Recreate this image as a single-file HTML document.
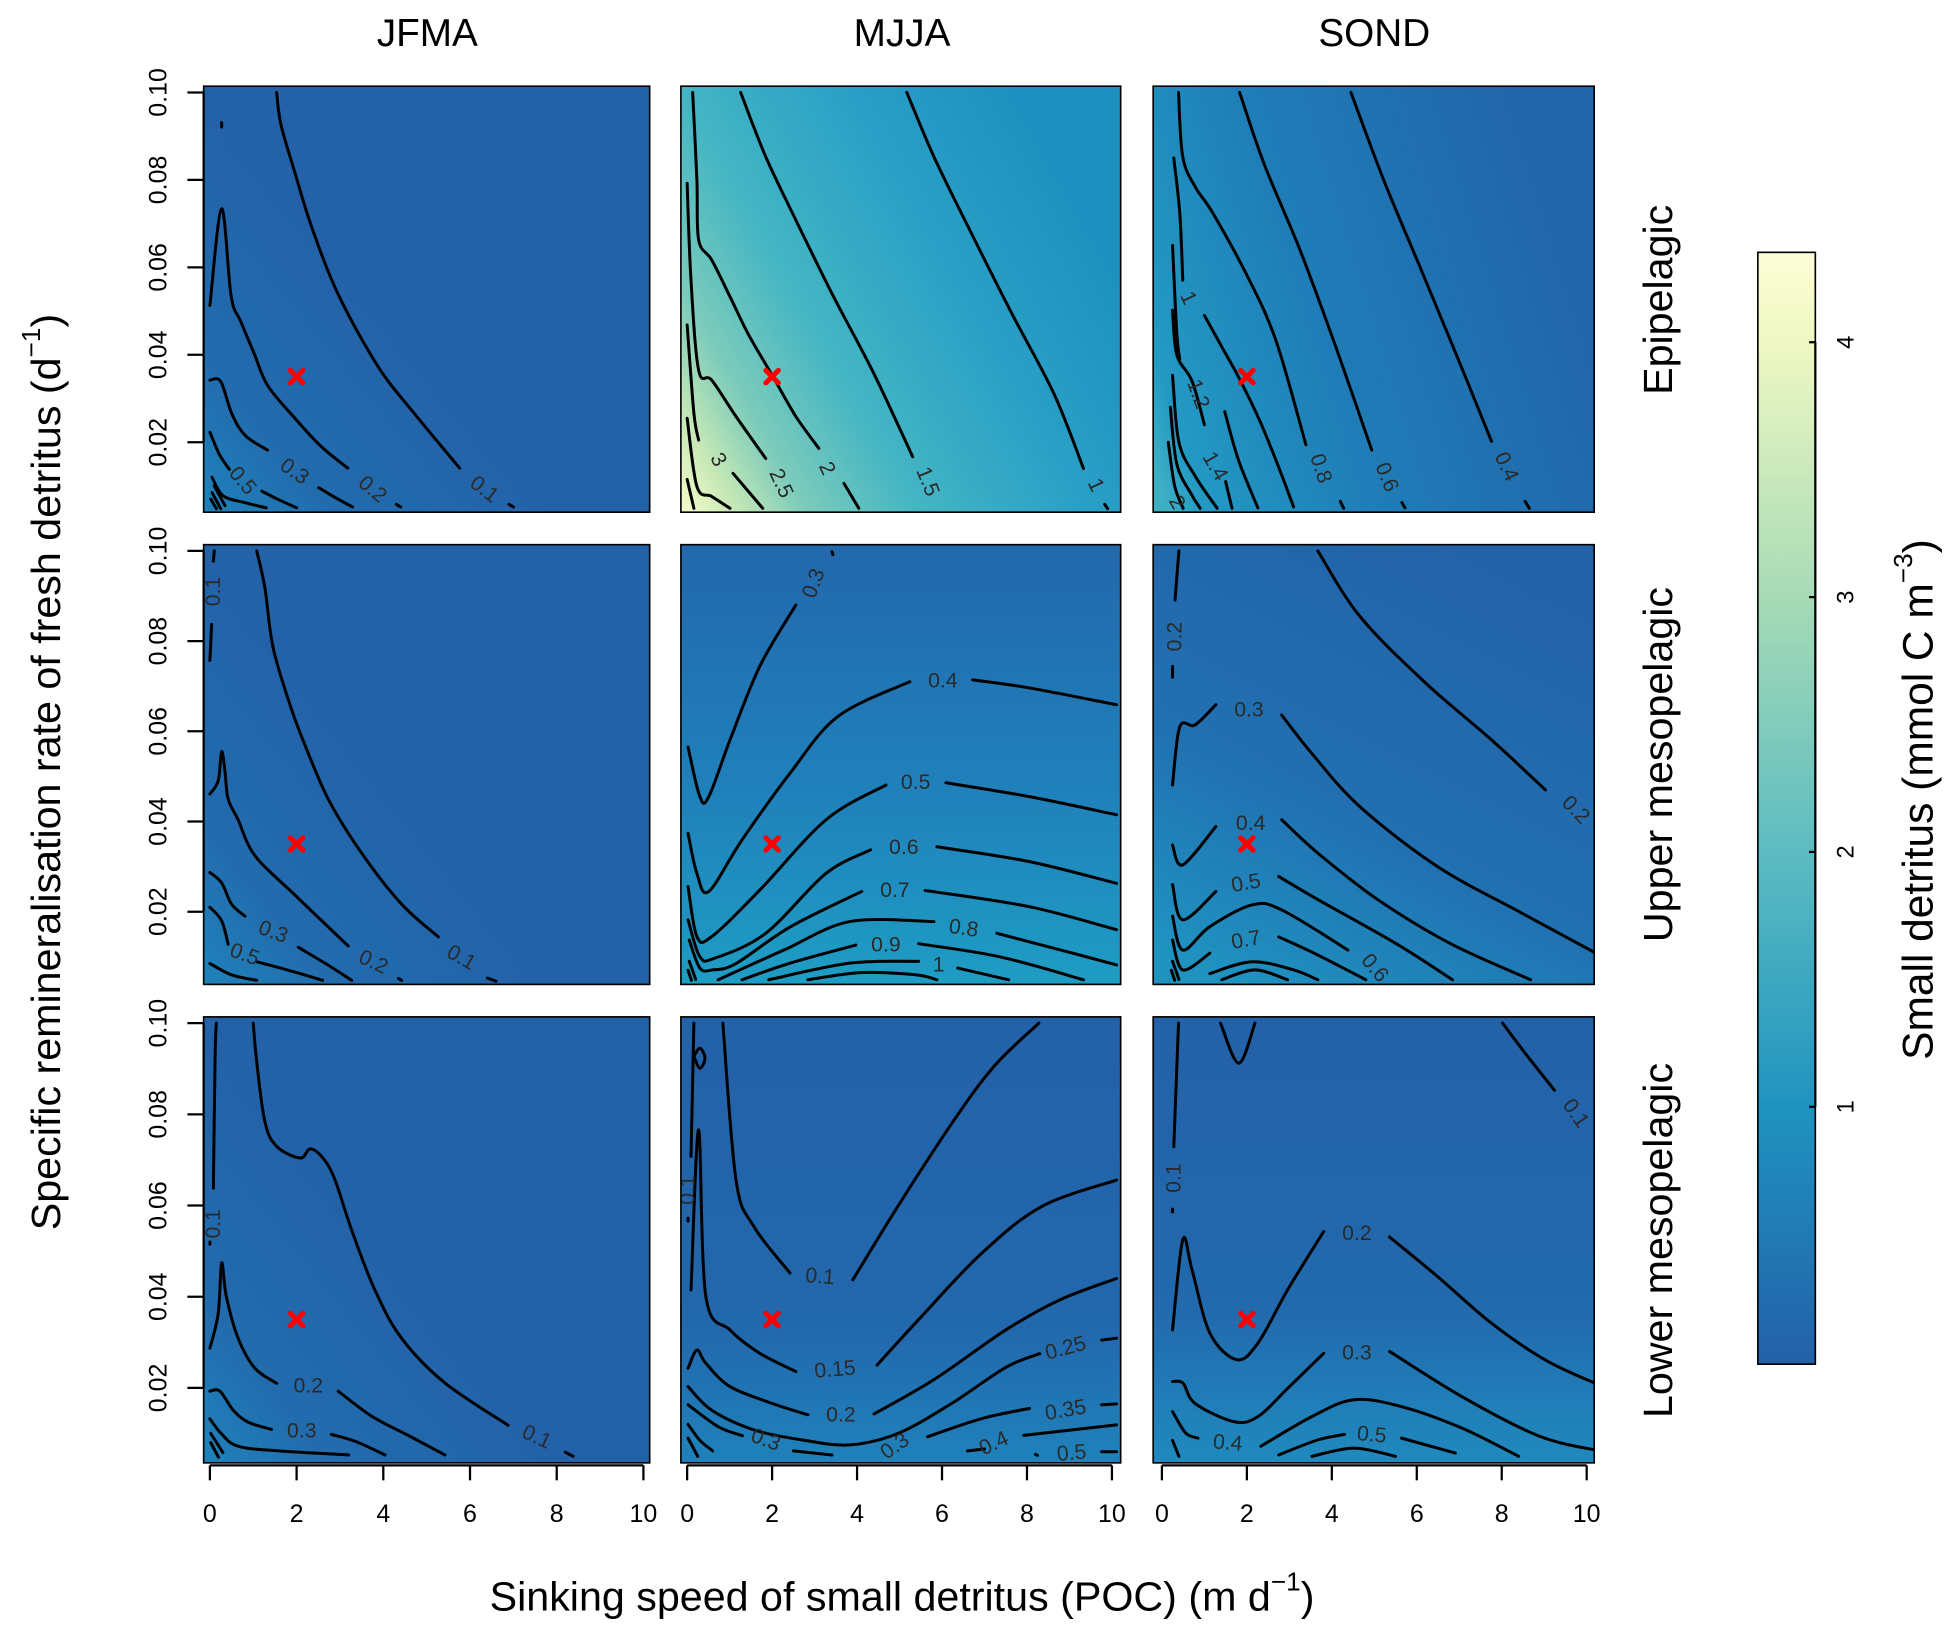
<!DOCTYPE html>
<html><head><meta charset="utf-8"><style>
html,body{margin:0;padding:0;background:#fff;}
svg{display:block;font-family:"Liberation Sans",Arial,sans-serif;}
</style></head><body>
<svg id="chart" xmlns="http://www.w3.org/2000/svg" width="1959" height="1639" viewBox="0 0 1568 1312" preserveAspectRatio="none">
<defs>
<linearGradient id="g-jfma" x1="0" y1="1" x2="0.5" y2="0.6"><stop offset="0" stop-color="#1f82ba"/><stop offset="0.35" stop-color="#226cae"/><stop offset="1" stop-color="#2361a8"/></linearGradient>
<linearGradient id="g-mjja-epi" x1="0" y1="1" x2="1" y2="0.45"><stop offset="0" stop-color="#f7fbcc"/><stop offset="0.1" stop-color="#c5e8b5"/><stop offset="0.22" stop-color="#7ccbbb"/><stop offset="0.42" stop-color="#43b5c4"/><stop offset="0.7" stop-color="#2aa0c6"/><stop offset="1" stop-color="#1e90c0"/></linearGradient>
<linearGradient id="g-sond-epi" x1="0" y1="0.9" x2="1" y2="0.6"><stop offset="0" stop-color="#3fb0c4"/><stop offset="0.08" stop-color="#2299c3"/><stop offset="0.45" stop-color="#1f7cb7"/><stop offset="1" stop-color="#2265aa"/></linearGradient>
<linearGradient id="g-mjja-up" x1="0" y1="0" x2="0" y2="1"><stop offset="0" stop-color="#2268ac"/><stop offset="0.55" stop-color="#2080ba"/><stop offset="1" stop-color="#1e9dc4"/></linearGradient>
<linearGradient id="g-sond-up" x1="0.7" y1="0" x2="0.2" y2="1"><stop offset="0" stop-color="#2362a8"/><stop offset="0.6" stop-color="#2170b1"/><stop offset="1" stop-color="#1f92c0"/></linearGradient>
<linearGradient id="g-mjja-low" x1="0" y1="0" x2="0" y2="1"><stop offset="0" stop-color="#2361a8"/><stop offset="0.7" stop-color="#2268ad"/><stop offset="1" stop-color="#1f82ba"/></linearGradient>
<linearGradient id="g-sond-low" x1="0" y1="0" x2="0" y2="1"><stop offset="0" stop-color="#2361a8"/><stop offset="0.65" stop-color="#2269ad"/><stop offset="1" stop-color="#1f8abe"/></linearGradient>
<linearGradient id="g-cbar" x1="0" y1="0" x2="0" y2="1"><stop offset="0" stop-color="#fdfed6"/><stop offset="0.08" stop-color="#eff8c3"/><stop offset="0.31" stop-color="#a7dbb6"/><stop offset="0.54" stop-color="#5cbcc1"/><stop offset="0.77" stop-color="#1f93c0"/><stop offset="1" stop-color="#2360a8"/></linearGradient>
</defs>
<g id="layer"></g>
</svg>
<script>
const colLabels = ['JFMA','MJJA','SOND'];
const rowLabels = ['Epipelagic','Upper mesopelagic','Lower mesopelagic'];
const xTicks = [0,2,4,6,8,10];
const yTicks = [0.02,0.04,0.06,0.08,0.10];
const yTickLabels = ['0.02','0.04','0.06','0.08','0.10'];
const cbTicks = [1,2,3,4];
const marker = [2,0.035];

const lines_r0c0 = [
 [[1.54,0.1],[1.64,0.0926],[1.95,0.082],[2.36,0.0689],[2.98,0.0534],[3.9,0.037],[4.73,0.0264],[5.76,0.0141]],
 [[6.9,0.0058],[7.0,0.0052]],
 [[0,0.0513],[0.27,0.0734],[0.49,0.0534],[0.71,0.0477],[1.02,0.0403],[1.33,0.033],[1.95,0.0256],[2.57,0.019],[3.18,0.0141]],
 [[4.3,0.0058],[4.4,0.0052]],
 [[0,0.0342],[0.25,0.0339],[0.51,0.0264],[0.82,0.0215],[1.33,0.0182]],
 [[2.51,0.0096],[2.9,0.0073],[3.29,0.0052]],
 [[0,0.0223],[0.22,0.0172],[0.45,0.0138]],
 [[1.2,0.0088],[1.6,0.0068],[2.0,0.005]],
 [[0.05,0.012],[0.3,0.0078],[0.8,0.0062],[1.3,0.005]],
 [[0.1,0.01],[0.35,0.0055]],[[0.05,0.0085],[0.25,0.0048]],[[0.02,0.007],[0.15,0.0048]],
 [[0.27,0.0931],[0.27,0.0921]]
];
const labels_r0c0 = [['0.1',6.33,0.0092,38],['0.2',3.75,0.0092,40],['0.3',1.95,0.0133,35],['0.5',0.75,0.0112,50]];

const lines_r0c1 = [
 [[0.13,0.1],[0.23,0.08],[0.27,0.0663],[0.58,0.0617],[1.01,0.0533],[1.43,0.0449],[2.02,0.035],[2.56,0.0259],[3.1,0.0186]],
 [[3.69,0.0106],[4.04,0.0049]],
 [[1.26,0.1],[1.85,0.0853],[2.56,0.0708],[3.41,0.054],[4.39,0.0358],[5.31,0.0167]],
 [[5.17,0.1],[5.81,0.0853],[6.65,0.0686],[7.64,0.0495],[8.63,0.0312],[9.33,0.014]],
 [[9.83,0.0058],[9.9,0.0048]],
 [[0,0.0792],[0.09,0.057],[0.27,0.0365],[0.58,0.0342],[1.15,0.0259],[1.85,0.0163]],
 [[0,0.0468],[0.16,0.0266],[0.27,0.0205]],
 [[1.08,0.0129],[1.78,0.0049]],
 [[0,0.0255],[0.23,0.0099],[0.58,0.0076],[1.01,0.0049]],
 [[0,0.0115],[0.16,0.0049]]
];
const labels_r0c1 = [['3',0.73,0.016,60],['2.5',2.21,0.0106,65],['2',3.29,0.014,65],['1.5',5.66,0.011,68],['1',9.62,0.0102,65]];

const lines_r0c2 = [
 [[4.45,0.1],[5.22,0.08],[6.07,0.0602],[6.92,0.0403],[7.76,0.0202]],[[8.55,0.0065],[8.65,0.0049]],
 [[1.83,0.1],[2.4,0.0838],[3.25,0.064],[4.09,0.0419],[4.94,0.0182]],[[5.65,0.0062],[5.72,0.005]],
 [[0.39,0.1],[0.49,0.0853],[0.78,0.0785],[1.2,0.0724],[1.98,0.0586],[2.68,0.0434],[3.39,0.0194]],[[4.2,0.0065],[4.28,0.0049]],
 [[0.28,0.085],[0.42,0.0724],[0.49,0.0571]],[[1.0,0.049],[1.4,0.042],[1.8,0.035],[2.3,0.025],[2.8,0.013],[3.1,0.0052]],
 [[0.25,0.065],[0.35,0.045],[0.42,0.039]],[[1.48,0.027],[1.8,0.016],[2.26,0.005]],
 [[0.25,0.0502],[0.35,0.04],[0.71,0.034],[1.0,0.024]],[[1.5,0.011],[1.65,0.0049]],
 [[0.25,0.0353],[0.4,0.02],[0.8,0.012],[1.3,0.0049]],
 [[0.2,0.028],[0.35,0.015],[0.7,0.008],[0.9,0.0049]],
 [[0.15,0.02],[0.3,0.01],[0.5,0.0049]]
];
const labels_r0c2 = [['1',0.62,0.053,65],['1.2',0.85,0.031,70],['1.4',1.25,0.0145,60],['2',0.35,0.0062,60],['0.8',3.74,0.014,72],['0.6',5.29,0.012,68],['0.4',8.11,0.0144,65]];

const lines_r1c0 = [
 [[1.08,0.1],[1.27,0.0917],[1.46,0.0784],[1.88,0.065],[2.19,0.057],[2.73,0.045],[3.5,0.033],[4.42,0.0217],[5.27,0.0144]],[[6.4,0.0053],[6.6,0.0046]],
 [[0.1,0.1],[0.08,0.0977]],[[0.04,0.0837],[0,0.0757]],
 [[0,0.0461],[0.19,0.049],[0.27,0.0555],[0.35,0.051],[0.42,0.045],[0.65,0.0404],[1.04,0.0324],[1.96,0.0237],[3.19,0.0124]],[[4.35,0.0052],[4.42,0.0048]],
 [[0,0.0287],[0.27,0.0264],[0.5,0.0217],[0.81,0.019]],[[2.04,0.0121],[2.7,0.0083],[3.27,0.0048]],
 [[0,0.021],[0.27,0.018],[0.42,0.0128]],[[1.08,0.0089],[1.9,0.0068],[2.6,0.0048]],
 [[0,0.0085],[0.5,0.006],[1.08,0.0048]]
];
const labels_r1c0 = [['0.1',5.8,0.0098,30],['0.2',3.77,0.0088,25],['0.3',1.46,0.0155,20],['0.5',0.8,0.0105,20],['0.1',0.08,0.091,-90]];

const lines_r1c1 = [
 [[0.02,0.0565],[0.3,0.0455],[0.51,0.0455],[1.01,0.0581],[1.71,0.0744],[2.56,0.088]],[[3.41,0.0998],[3.43,0.0992]],
 [[0.02,0.0374],[0.23,0.0285],[0.51,0.0245],[1.29,0.0359],[2.42,0.0507],[3.55,0.0633],[5.24,0.071]],[[6.72,0.0714],[8.06,0.0696],[10.11,0.0659]],
 [[0.02,0.0256],[0.23,0.0145],[0.58,0.0145],[1.71,0.0248],[3.27,0.0404],[4.68,0.0481]],[[6.09,0.0486],[8.06,0.0455],[10.11,0.0415]],
 [[0.02,0.0182],[0.3,0.01],[0.65,0.0097],[1.85,0.0152],[3.27,0.0285],[4.32,0.0337]],[[5.88,0.0344],[8.06,0.0311],[10.11,0.0263]],
 [[0.05,0.0137],[0.3,0.0075],[0.6,0.0071],[1.15,0.0085],[2.42,0.0166],[4.11,0.0245]],[[5.6,0.0247],[8.06,0.0211],[10.11,0.016]],
 [[0.73,0.0049],[2.28,0.0115],[3.83,0.0178],[5.81,0.0178]],[[7.29,0.0152],[8.8,0.0115],[10.11,0.0082]],
 [[1.29,0.0049],[2.42,0.0086],[3.97,0.0126]],[[5.45,0.0129],[7.36,0.01],[9.33,0.0049]],
 [[1.92,0.0049],[3.83,0.0086],[5.45,0.009]],[[6.37,0.0075],[7.57,0.0049]],
 [[2.84,0.0049],[4.11,0.0065],[5.38,0.006],[5.88,0.0049]],
 [[0.05,0.009],[0.2,0.005]],[[0.02,0.007],[0.1,0.0048]]
];
const labels_r1c1 = [['0.3',2.98,0.0928,-70],['0.4',6.02,0.0712,0],['0.5',5.38,0.0487,0],['0.6',5.1,0.0342,0],['0.7',4.89,0.0247,0],['0.8',6.51,0.0163,8],['0.9',4.68,0.0126,0],['1',5.92,0.0082,0]];

const lines_r1c2 = [
 [[3.67,0.1],[4.66,0.0855],[6.21,0.0707],[7.76,0.0581],[9.03,0.047]],[[10.28,0.0392],[10.3,0.0388]],
 [[0.4,0.1],[0.31,0.0891]],[[0.25,0.0744],[0.25,0.072]],
 [[0.25,0.0481],[0.42,0.061],[0.78,0.0614],[1.27,0.0659]],[[2.82,0.0636],[3.53,0.0551],[4.66,0.0433],[6.49,0.03],[8.47,0.0197],[10.3,0.0104]],
 [[0.25,0.0348],[0.49,0.0304],[1.27,0.0389]],[[2.82,0.0404],[3.67,0.033],[5.08,0.0227],[6.78,0.013],[8.68,0.0049]],
 [[0.25,0.026],[0.49,0.0182],[1.27,0.0245]],[[2.75,0.0278],[3.67,0.0227],[5.5,0.013],[6.84,0.0049]],
 [[0.25,0.019],[0.49,0.0115],[1.13,0.0167],[2.12,0.0215],[2.82,0.0204],[4.38,0.0115]],
 [[0.25,0.0137],[0.49,0.0071],[1.13,0.0108]],[[2.75,0.0144],[3.67,0.0104],[4.8,0.0049]],
 [[1.13,0.0063],[2.12,0.0089],[3.1,0.0071],[3.67,0.0049]],
 [[1.41,0.0049],[2.19,0.0071],[2.96,0.0049]],
 [[0.25,0.009],[0.4,0.005]],[[0.22,0.007],[0.3,0.0048]]
];
const labels_r1c2 = [['0.2',0.31,0.081,-90],['0.2',9.74,0.0426,45],['0.3',2.05,0.0647,0],['0.4',2.09,0.0396,0],['0.5',1.98,0.0263,-10],['0.6',5.01,0.0075,50],['0.7',1.98,0.0137,-10]];

const lines_r2c0 = [
 [[1.0,0.1],[1.08,0.0915],[1.27,0.0783],[1.54,0.073],[2.08,0.0704],[2.31,0.0724],[2.6,0.0705],[2.88,0.0658],[3.27,0.0546],[3.81,0.0414],[4.42,0.0309],[5.42,0.0211],[6.88,0.0118]],[[8.2,0.0059],[8.38,0.005]],
 [[0.15,0.1],[0.12,0.093],[0.08,0.0638]],[[0.0,0.052],[0.0,0.0515]],
 [[0,0.0287],[0.19,0.0362],[0.27,0.0474],[0.38,0.04],[0.65,0.0309],[1.04,0.0243],[1.54,0.021]],[[2.96,0.0193],[3.73,0.0138],[4.65,0.0092],[5.42,0.0053]],
 [[0,0.0193],[0.23,0.0193],[0.54,0.0151],[0.88,0.0125],[1.42,0.0109]],[[2.8,0.0098],[3.35,0.0083],[4.04,0.0053]],
 [[0,0.0132],[0.27,0.0099],[0.65,0.0072],[1.58,0.0062],[3.2,0.0053]],
 [[0.02,0.01],[0.3,0.0058]],[[0.02,0.008],[0.2,0.0048]]
];
const labels_r2c0 = [['0.1',0.08,0.056,-90],['0.2',2.27,0.0204,0],['0.3',2.12,0.0105,0],['0.1',7.54,0.0092,25]];

const lines_r2c1 = [
 [[0.16,0.1],[0.09,0.0708]],[[0.02,0.0572],[0.02,0.0566]],
 [[0.16,0.0927],[0.3,0.0945],[0.42,0.0923],[0.3,0.0901],[0.16,0.0927]],
 [[0.84,0.1],[1.15,0.0656],[1.57,0.0554],[2.42,0.0452]],[[3.9,0.0437],[4.96,0.0598],[6.23,0.078],[7.22,0.0905],[8.28,0.1]],
 [[0.09,0.0415],[0.27,0.0766],[0.44,0.04],[1.01,0.0327],[1.71,0.0276],[2.56,0.0236]],[[4.47,0.025],[5.52,0.0357],[6.94,0.0496],[8.35,0.0598],[10.11,0.0656]],
 [[0.02,0.0243],[0.23,0.0283],[0.44,0.0254],[1.01,0.0203],[2.0,0.0166],[2.84,0.0141]],[[4.4,0.0143],[5.81,0.0218],[7.5,0.0327],[8.77,0.0393],[10.11,0.044]],
 [[0.02,0.0203],[0.58,0.0151],[1.57,0.0108],[2.7,0.0086],[3.83,0.0075],[4.96,0.01],[6.23,0.0166],[7.5,0.0245],[8.3,0.0275]],[[9.76,0.0305],[10.11,0.0309]],
 [[0.02,0.0163],[0.73,0.0115],[1.3,0.0095]],[[2.5,0.0062],[3.41,0.0053]],
 [[5.66,0.0093],[6.94,0.0133],[8.06,0.0155]],[[9.76,0.0163],[10.11,0.0165]],
 [[6.6,0.0062],[7.0,0.0066]],[[7.92,0.0096],[10.11,0.0119]],
 [[8.2,0.0054],[8.25,0.0052]],[[9.76,0.006],[10.11,0.006]],
 [[0.02,0.012],[0.3,0.0085],[0.6,0.0062]],[[0.02,0.009],[0.25,0.005]]
];
const labels_r2c1 = [['0.1',0.02,0.0634,-90],['0.1',3.13,0.0444,5],['0.15',3.48,0.024,-5],['0.2',3.62,0.0141,0],['0.25',8.91,0.0287,-15],['0.3',1.85,0.0086,20],['0.3',4.89,0.0072,-35],['0.35',8.91,0.0151,-10],['0.4',7.22,0.0078,-25],['0.5',9.05,0.0057,-5]];

const lines_r2c2 = [
 [[0.39,0.1],[0.28,0.0729]],[[0.25,0.0592],[0.25,0.0586]],
 [[1.38,0.1],[1.81,0.0912],[2.19,0.1]],
 [[8.02,0.1],[8.61,0.0927],[9.24,0.0853]],[[10.28,0.0762],[10.3,0.0757]],
 [[0.25,0.0327],[0.49,0.0525],[0.71,0.0459],[1.13,0.032],[1.76,0.0262],[2.26,0.0298],[2.96,0.0415],[3.81,0.0543]],[[5.36,0.0531],[6.49,0.0444],[7.76,0.0342],[9.03,0.0261],[10.3,0.0206]],
 [[0.25,0.0214],[0.5,0.021],[0.78,0.0166],[1.69,0.0126],[2.26,0.0137],[2.96,0.0199],[3.81,0.0276]],[[5.36,0.028],[7.06,0.0181],[8.89,0.0094],[10.3,0.0062]],
 [[0.25,0.0148],[0.56,0.0101],[0.85,0.009]],[[2.33,0.0072],[3.53,0.0137],[4.52,0.0174],[5.64,0.0159],[7.06,0.0112],[8.4,0.005]],
 [[2.75,0.0053],[3.67,0.0086],[4.3,0.0098]],[[5.64,0.009],[6.91,0.0057]],
 [[3.53,0.005],[4.52,0.0068],[5.5,0.005]],
 [[0.25,0.0085],[0.4,0.005]]
];
const labels_r2c2 = [['0.1',0.28,0.066,-90],['0.1',9.74,0.0802,55],['0.2',4.59,0.0539,0],['0.3',4.59,0.0276,0],['0.4',1.55,0.0079,5],['0.5',4.94,0.0097,5]];

const panelLines = [[lines_r0c0,lines_r0c1,lines_r0c2],[lines_r1c0,lines_r1c1,lines_r1c2],[lines_r2c0,lines_r2c1,lines_r2c2]];
const panelLabels = [[labels_r0c0,labels_r0c1,labels_r0c2],[labels_r1c0,labels_r1c1,labels_r1c2],[labels_r2c0,labels_r2c1,labels_r2c2]];
const fills = [['g-jfma','g-mjja-epi','g-sond-epi'],['g-jfma','g-mjja-up','g-sond-up'],['g-jfma','g-mjja-low','g-sond-low']];

const cols = [{x0:168,sx:34.7,L:163,R:520},{x0:550,sx:34,L:545,R:897},{x0:930,sx:34,L:923,R:1276}];
const rows = [{y10:74,s:3500,T:69,B:410},{y10:441,s:3610,T:436,B:788},{y10:819,s:3650,T:814,B:1171}];
const NS='http://www.w3.org/2000/svg';
const svg=document.getElementById('chart');
const layer=document.getElementById('layer');
const defs=svg.querySelector('defs');
function mk(tag,attrs,parent){const e=document.createElementNS(NS,tag);for(const k in attrs)e.setAttribute(k,attrs[k]);(parent||layer).appendChild(e);return e;}
function smooth(p){
  if(p.length<3){return 'M'+p.map(q=>q[0].toFixed(1)+','+q[1].toFixed(1)).join('L');}
  let d='M'+p[0][0].toFixed(1)+','+p[0][1].toFixed(1);
  for(let i=0;i<p.length-1;i++){
    const p0=p[i-1]||p[i],p1=p[i],p2=p[i+1],p3=p[i+2]||p2;
    const c1=[p1[0]+(p2[0]-p0[0])/6,p1[1]+(p2[1]-p0[1])/6];
    const c2=[p2[0]-(p3[0]-p1[0])/6,p2[1]-(p3[1]-p1[1])/6];
    d+='C'+c1[0].toFixed(1)+','+c1[1].toFixed(1)+' '+c2[0].toFixed(1)+','+c2[1].toFixed(1)+' '+p2[0].toFixed(1)+','+p2[1].toFixed(1);
  }
  return d;
}
function txt(s,x,y,size,rot,anchor,parent){
  const t=mk('text',{x:x,y:y,'font-size':size,'text-anchor':anchor||'middle','dominant-baseline':'central',fill:'#000'},parent);
  if(rot)t.setAttribute('transform','rotate('+rot+' '+x+' '+y+')');
  t.textContent=s;return t;
}

for(let r=0;r<3;r++){for(let c=0;c<3;c++){
  const C=cols[c],R=rows[r];
  const X=v=>C.x0+v*C.sx, Y=v=>R.y10+(0.10-v)*R.s;
  const g=mk('g',{});
  
  
  const cp=mk('clipPath',{id:'cp'+r+c},defs);
  mk('rect',{x:C.L,y:R.T,width:C.R-C.L,height:R.B-R.T},cp);
  const bg=mk('rect',{x:C.L,y:R.T,width:C.R-C.L,height:R.B-R.T,fill:'url(#'+fills[r][c]+')'},g);
  
  
  const cg=mk('g',{'clip-path':'url(#cp'+r+c+')'},g);
  panelLines[r][c].forEach(line=>{
    const p=mk('path',{d:smooth(line.map(q=>[X(q[0]),Y(q[1])])),fill:'none',stroke:'#000','stroke-width':2.4,'stroke-linecap':'round','stroke-linejoin':'round'},cg);
    
    
  });
  panelLabels[r][c].forEach(l=>{
    const t=txt(l[0],X(l[1]),Y(l[2]),17,l[3],'middle',cg);
    t.setAttribute('fill','#2a2a2a');
    
    
  });
  const mx=X(marker[0]),my=Y(marker[1]);
  const mg=mk('g',{stroke:'#ff0000','stroke-width':4,'stroke-linecap':'round'},g);
  
  
  mk('line',{x1:mx-5,y1:my-5,x2:mx+5,y2:my+5},mg);
  mk('line',{x1:mx-5,y1:my+5,x2:mx+5,y2:my-5},mg);
  const fr=mk('rect',{x:C.L,y:R.T,width:C.R-C.L,height:R.B-R.T,fill:'none',stroke:'#000','stroke-width':1.3},g);
  
  
  if(c===0){
    const ya=mk('g',{stroke:'#000','stroke-width':1.8},g);
    
    
    mk('line',{x1:C.L,y1:Y(yTicks[yTicks.length-1]),x2:C.L,y2:Y(yTicks[0])},ya);
    yTicks.forEach((v,i)=>{
      mk('line',{x1:C.L-13,y1:Y(v),x2:C.L,y2:Y(v)},ya);
      const t=txt(yTickLabels[i],127,Y(v),20,-90,'middle',g);
      
      
    });
  }
  if(r===2){
    const xa=mk('g',{stroke:'#000','stroke-width':1.8},g);
    
    
    mk('line',{x1:X(xTicks[0]),y1:R.B+2,x2:X(xTicks[xTicks.length-1]),y2:R.B+2},xa);
    xTicks.forEach(v=>{
      mk('line',{x1:X(v),y1:R.B+2,x2:X(v),y2:R.B+14},xa);
      const t=txt(String(v),X(v),1212,20,0,'middle',g);
      
      
    });
  }
}}
const colX=[342,722,1100];
colLabels.forEach((s,i)=>{const t=txt(s,colX[i],27,31,0,'middle');
  
  });
const rowY=[240,612,993];
rowLabels.forEach((s,i)=>{const t=txt(s,1327,rowY[i],33,-90,'middle');
  
  });
let yt=mk('text',{x:37,y:618,'font-size':33,'text-anchor':'middle','dominant-baseline':'central',transform:'rotate(-90 37 618)'});


yt.innerHTML='Specific remineralisation rate of fresh detritus (d<tspan dy="-12" font-size="21">−1</tspan><tspan dy="12">)</tspan>';
let xt=mk('text',{x:722,y:1278,'font-size':33,'text-anchor':'middle','dominant-baseline':'central'});


xt.innerHTML='Sinking speed of small detritus (POC) (m d<tspan dy="-12" font-size="21">−1</tspan><tspan dy="12">)</tspan>';
const cbT=202,cbB=1092,cbL=1407,cbR=1453;
const cbY=v=>cbB-(v+0.01)*204;
const cb=mk('rect',{x:cbL,y:cbT,width:cbR-cbL,height:cbB-cbT,fill:'url(#g-cbar)',stroke:'#000','stroke-width':1.3});


const ca=mk('g',{stroke:'#000','stroke-width':1.8});


mk('line',{x1:cbR,y1:cbY(cbTicks[0]),x2:cbR,y2:cbY(cbTicks[cbTicks.length-1])},ca);
cbTicks.forEach(v=>{
  mk('line',{x1:cbR-5,y1:cbY(v),x2:cbR,y2:cbY(v)},ca);
  const t=txt(String(v),1478,cbY(v),19,-90,'middle');
  
  
});
let ct=mk('text',{x:1535,y:640,'font-size':34,'text-anchor':'middle','dominant-baseline':'central',transform:'rotate(-90 1535 640)'});


ct.innerHTML='Small detritus (mmol C m<tspan dy="-12" font-size="21">−3</tspan><tspan dy="12">)</tspan>';
</script>
</body></html>
